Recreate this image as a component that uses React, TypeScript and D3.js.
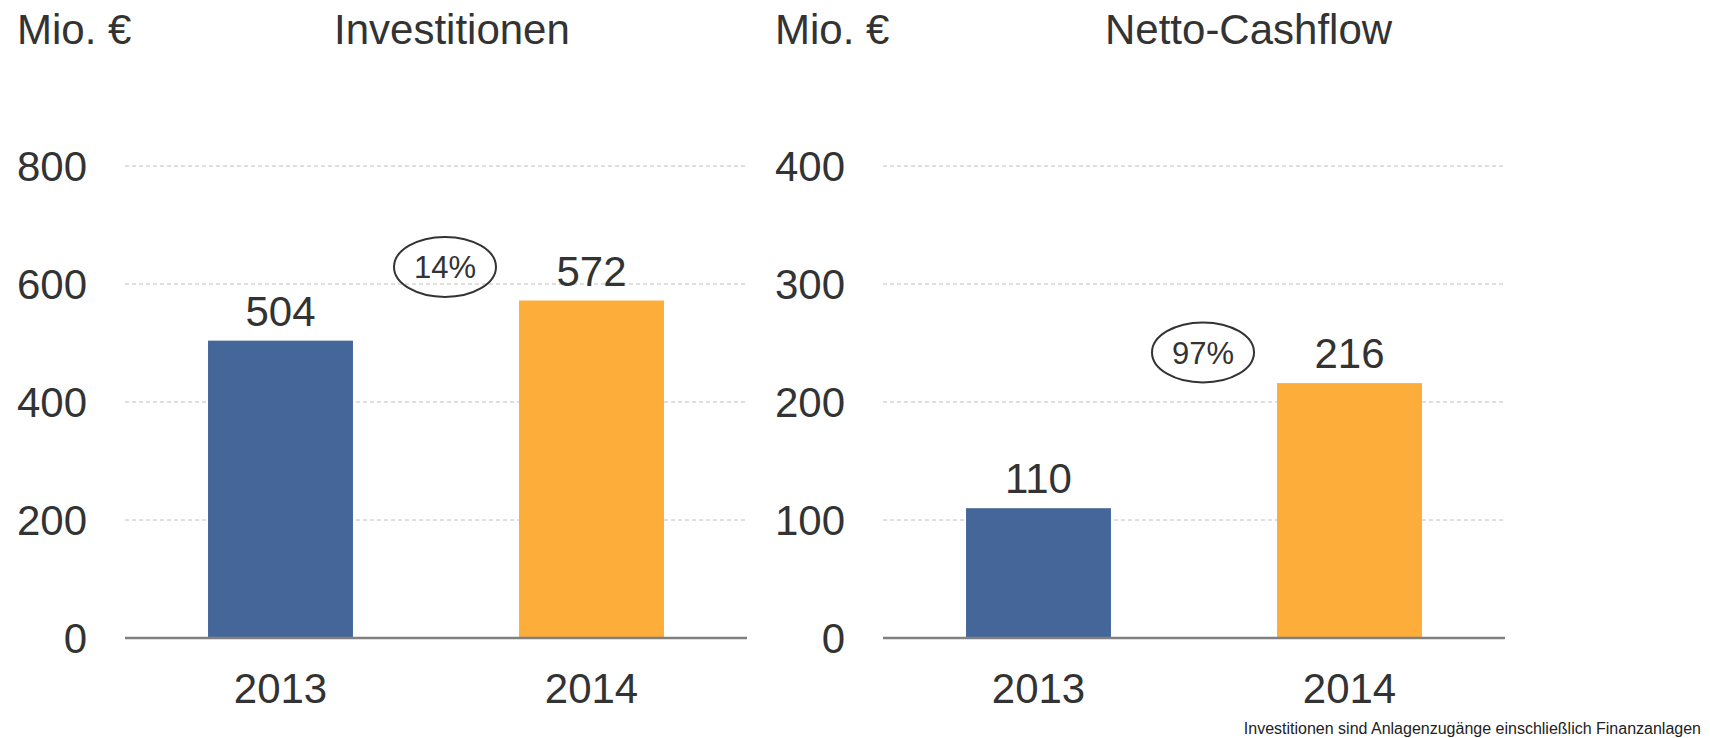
import React, { useEffect, useRef } from "react";
import * as d3 from "d3";

const years = ["2013", "2014"];
const investValues = [504, 572];
const cashflowValues = [110, 216];
const investTicks = [0, 200, 400, 600, 800];
const cashflowTicks = [0, 100, 200, 300, 400];
const growthLabels = ["14%", "97%"];
// value level (in axis units) where the growth bubble sits
const growthLevels = [629, 242];
const barColors = ["#446699", "#FDAD3A"];

const W = 1710;
const H = 738;
const FONT = "'Liberation Sans', Arial, sans-serif";
const TEXT = "#333333";

const App = () => {
  const ref = useRef<SVGSVGElement>(null);

  useEffect(() => {
    const svg = d3.select(ref.current);
    svg.selectAll("*").remove();

    const top = 166;
    const bottom = 638;

    const panels = [
      { unit: "Mio. €", title: "Investitionen", values: investValues, ticks: investTicks, left: 125, unitX: 17, titleX: 334, growth: growthLabels[0], level: growthLevels[0] },
      { unit: "Mio. €", title: "Netto-Cashflow", values: cashflowValues, ticks: cashflowTicks, left: 883, unitX: 775, titleX: 1105, growth: growthLabels[1], level: growthLevels[1] },
    ];

    panels.forEach(p => {
      const width = 622;
      const x = d3.scaleBand().domain(years).range([p.left, p.left + width]).padding(0);
      const y = d3
        .scaleLinear()
        .domain([0, d3.max(p.ticks) as number])
        .range([bottom, top]);
      const barW = x.bandwidth() * 0.466;

      const g = svg.append("g");

      // header
      g.append("text")
        .attr("x", p.unitX)
        .attr("y", 44)
        .attr("font-size", 42)
        .attr("font-family", FONT)
        .attr("fill", TEXT)
        .text(p.unit);
      g.append("text")
        .attr("x", p.titleX)
        .attr("y", 44)
        .attr("font-size", 42)
        .attr("font-family", FONT)
        .attr("fill", TEXT)
        .text(p.title);

      // gridlines
      g.selectAll("line.grid")
        .data(p.ticks.filter(t => t > 0))
        .enter()
        .append("line")
        .attr("x1", p.left)
        .attr("x2", p.left + width)
        .attr("y1", d => y(d))
        .attr("y2", d => y(d))
        .attr("stroke", "#c0c0c0")
        .attr("stroke-width", 1)
        .attr("stroke-dasharray", "4,3");

      // tick labels
      g.selectAll("text.tick")
        .data(p.ticks)
        .enter()
        .append("text")
        .attr("x", p.left - 38)
        .attr("y", d => y(d))
        .attr("dy", "0.36em")
        .attr("text-anchor", "end")
        .attr("font-size", 42)
        .attr("font-family", FONT)
        .attr("fill", TEXT)
        .text(d => d);

      // bars
      g.selectAll("rect")
        .data(p.values)
        .enter()
        .append("rect")
        .attr("x", (d, i) => (x(years[i]) as number) + x.bandwidth() / 2 - barW / 2)
        .attr("y", d => y(d))
        .attr("width", barW)
        .attr("height", d => y(0) - y(d))
        .attr("fill", (d, i) => barColors[i]);

      // value labels
      g.selectAll("text.val")
        .data(p.values)
        .enter()
        .append("text")
        .attr("x", (d, i) => (x(years[i]) as number) + x.bandwidth() / 2)
        .attr("y", d => y(d) - 15)
        .attr("text-anchor", "middle")
        .attr("font-size", 42)
        .attr("font-family", FONT)
        .attr("fill", TEXT)
        .text(d => d);

      // baseline
      g.append("line")
        .attr("x1", p.left)
        .attr("x2", p.left + width)
        .attr("y1", y(0))
        .attr("y2", y(0))
        .attr("stroke", "#808080")
        .attr("stroke-width", 2.5);

      // x labels
      g.selectAll("text.year")
        .data(years)
        .enter()
        .append("text")
        .attr("x", d => (x(d) as number) + x.bandwidth() / 2)
        .attr("y", 703)
        .attr("text-anchor", "middle")
        .attr("font-size", 42)
        .attr("font-family", FONT)
        .attr("fill", TEXT)
        .text(d => d);

      // growth bubble
      const cx = p.left + width / 2 + 9;
      const cy = y(p.level);
      g.append("ellipse")
        .attr("cx", cx)
        .attr("cy", cy)
        .attr("rx", 51)
        .attr("ry", 30)
        .attr("fill", "none")
        .attr("stroke", TEXT)
        .attr("stroke-width", 2);
      g.append("text")
        .attr("x", cx)
        .attr("y", cy)
        .attr("dy", "0.36em")
        .attr("text-anchor", "middle")
        .attr("font-size", 31)
        .attr("font-family", FONT)
        .attr("fill", TEXT)
        .text(p.growth);
    });

    // footnote
    svg.append("text")
      .attr("x", 1701)
      .attr("y", 734)
      .attr("text-anchor", "end")
      .attr("font-size", 16)
      .attr("font-family", FONT)
      .attr("fill", "#222")
      .text("Investitionen sind Anlagenzugänge einschließlich Finanzanlagen");
  }, []);

  return (
    <svg
      ref={ref}
      width={W}
      height={H}
      style={{ position: "absolute", left: 0, top: 0, background: "#fff" }}
    ></svg>
  );
};

export default App;
